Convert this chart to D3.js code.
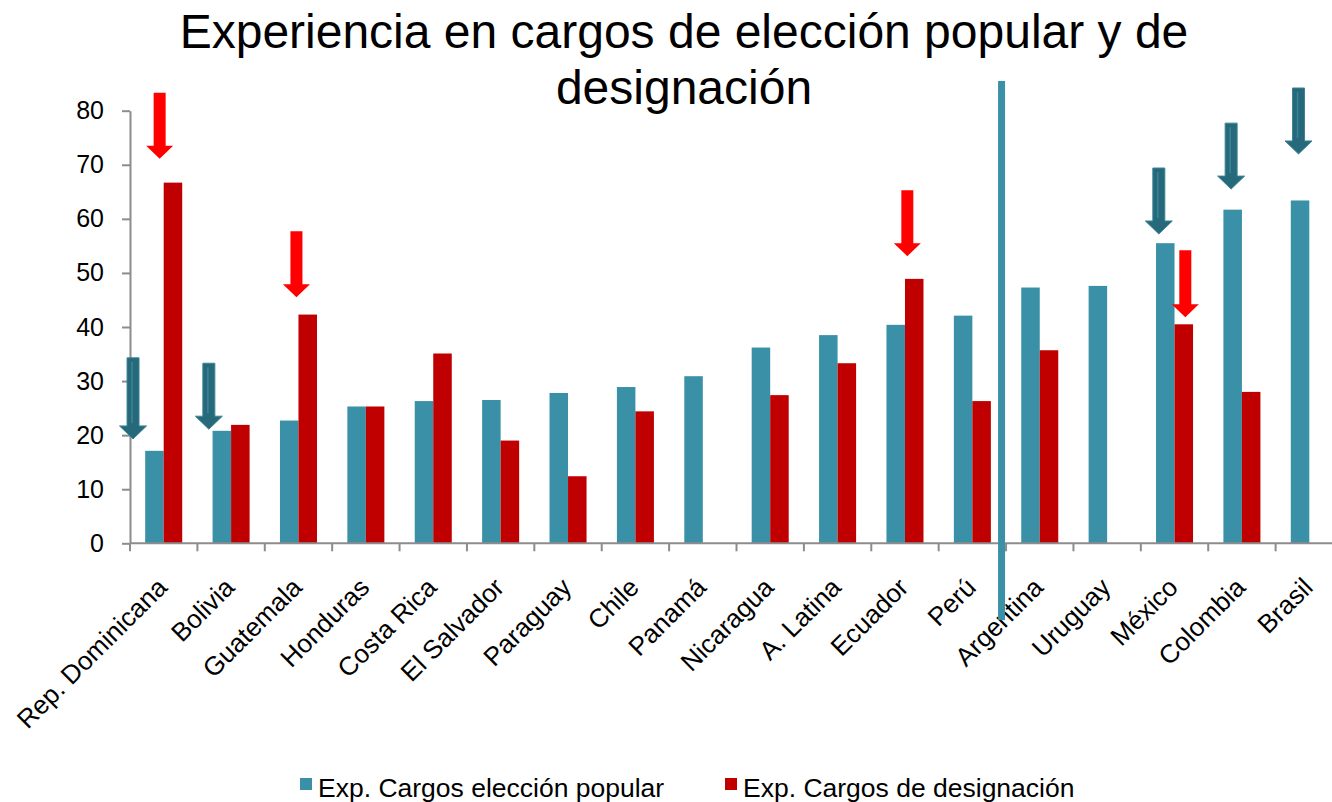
<!DOCTYPE html>
<html>
<head>
<meta charset="utf-8">
<script src="https://cdn.jsdelivr.net/npm/d3@7"></script>
<style>
  body { margin: 0; background: #fff; }
  svg text { font-family: Arial, "Liberation Sans", sans-serif; }
</style>
</head>
<body>
<div id="chart"></div>
<script>
// datos
var paises = ["Rep. Dominicana", "Bolivia", "Guatemala", "Honduras", "Costa Rica", "El Salvador",
  "Paraguay", "Chile", "Panamá", "Nicaragua", "A. Latina", "Ecuador", "Perú", "Argentina",
  "Uruguay", "México", "Colombia", "Brasil"];
var eleccionPopular = [17.1, 20.8, 22.7, 25.3, 26.3, 26.5, 27.8, 28.9, 30.9, 36.2, 38.5, 40.4, 42.1, 47.3, 47.6, 55.5, 61.7, 63.4];
var designacion = [66.7, 21.9, 42.3, 25.3, 35.1, 19.0, 12.4, 24.4, 0, 27.4, 33.3, 48.9, 26.3, 35.7, 0, 40.5, 28.0, 0];
var series = ["Exp. Cargos elección popular", "Exp. Cargos de designación"];
var yTicks = [0, 10, 20, 30, 40, 50, 60, 70, 80];

// flechas de anotacion: pais, posicion dentro de la categoria, valor arriba, valor punta
var flechasPais = ["Rep. Dominicana", "Bolivia", "Rep. Dominicana", "Guatemala", "Ecuador", "México", "México", "Colombia", "Brasil"];
var flechasPos = [0.045, 0.17, 0.44, 0.47, 0.535, 0.267, 0.66, 0.34, 0.34];
var flechasArriba = [34.3, 33.3, 83.3, 57.7, 65.3, 69.4, 54.2, 77.7, 84.2];
var flechasPunta = [19.3, 21.1, 71.1, 45.5, 53.1, 57.2, 41.8, 65.5, 72.0];
var flechasTipo = ["eleccion", "eleccion", "designacion", "designacion", "designacion", "eleccion", "designacion", "eleccion", "eleccion"];

var w = 1332, h = 802;
var colores = ["#3A91A7", "#C00000"];
var colorFlecha = { eleccion: "#26697B", designacion: "#FF0000" };

var svg = d3.select("#chart").append("svg")
  .attr("width", w)
  .attr("height", h);

var x = d3.scaleBand()
  .domain(paises)
  .range([130, 1343])
  .paddingInner(0)
  .paddingOuter(0);

var xSub = d3.scaleBand()
  .domain([0, 1])
  .range([0, x.bandwidth()])
  .paddingInner(0)
  .paddingOuter(0.82);

var y = d3.scaleLinear()
  .domain([0, 80])
  .range([543.3, 110.7]);

// barras
var datos = paises.map(function(p, i){
  return { pais: p, vals: [eleccionPopular[i], designacion[i]] };
});

var grupos = svg.selectAll(".grupo")
  .data(datos)
  .enter()
  .append("g")
  .attr("class", "grupo")
  .attr("transform", function(d){ return "translate(" + x(d.pais) + ",0)"; });

grupos.selectAll("rect")
  .data(function(d){ return d.vals.map(function(v, k){ return { k: k, v: v }; }); })
  .enter()
  .append("rect")
  .attr("x", function(d){ return xSub(d.k); })
  .attr("width", xSub.bandwidth())
  .attr("y", function(d){ return y(d.v); })
  .attr("height", function(d){ return y(0) - y(d.v); })
  .style("fill", function(d){ return colores[d.k]; });

// eje y
var yAxis = svg.append("g")
  .attr("transform", "translate(130,0)")
  .call(d3.axisLeft(y).tickValues(yTicks).tickSize(8).tickPadding(18).tickSizeOuter(0));
yAxis.select(".domain").style("stroke", "#8c8c8c").style("stroke-width", 2);
yAxis.selectAll(".tick line").style("stroke", "#8c8c8c").style("stroke-width", 2);
yAxis.selectAll("text")
  .style("font-size", "25px")
  .style("fill", "#000");

// eje x
var limites = paises.map(function(p){ return x(p); }).concat([x.range()[1]]);
svg.append("line")
  .attr("x1", 130).attr("x2", x.range()[1])
  .attr("y1", y(0)).attr("y2", y(0))
  .style("stroke", "#8c8c8c")
  .style("stroke-width", 2);
svg.selectAll(".xtick")
  .data(limites)
  .enter()
  .append("line")
  .attr("class", "xtick")
  .attr("x1", function(d){ return d; })
  .attr("x2", function(d){ return d; })
  .attr("y1", y(0))
  .attr("y2", y(0) + 8)
  .style("stroke", "#8c8c8c")
  .style("stroke-width", 2);

svg.selectAll(".xlabel")
  .data(paises)
  .enter()
  .append("text")
  .attr("class", "xlabel")
  .attr("transform", function(d){
    return "translate(" + (x(d) + x.bandwidth() / 2 + 5) + ",589) rotate(-45)";
  })
  .attr("text-anchor", "end")
  .style("font-size", "26px")
  .text(function(d){ return d; });

// linea vertical entre Peru y Argentina
svg.append("rect")
  .attr("x", x("Argentina") - 8)
  .attr("width", 7)
  .attr("y", y(85.5))
  .attr("height", y(-14.2) - y(85.5))
  .style("fill", "#3A91A7");

// flechas
var flechas = flechasPais.map(function(p, i){
  return { pais: p, pos: flechasPos[i], arriba: flechasArriba[i], punta: flechasPunta[i], tipo: flechasTipo[i] };
});

function flechaPath(d){
  var cx = x(d.pais) + d.pos * x.bandwidth();
  var y0 = y(d.arriba), y1 = y(d.punta);
  var sw = 6, hw = 13.5, hl = 13;
  return "M" + (cx - sw) + "," + y0 +
    "L" + (cx + sw) + "," + y0 +
    "L" + (cx + sw) + "," + (y1 - hl) +
    "L" + (cx + hw) + "," + (y1 - hl) +
    "L" + cx + "," + y1 +
    "L" + (cx - hw) + "," + (y1 - hl) +
    "L" + (cx - sw) + "," + (y1 - hl) + "Z";
}

svg.selectAll(".flecha")
  .data(flechas)
  .enter()
  .append("path")
  .attr("class", "flecha")
  .attr("d", flechaPath)
  .style("fill", function(d){ return colorFlecha[d.tipo]; })
  .style("stroke", function(d){ return d.tipo == "eleccion" ? "#3C8497" : "none"; })
  .style("stroke-width", 1);

// brillo interior de las flechas azules
svg.selectAll(".brillo")
  .data(flechas.filter(function(d){ return d.tipo == "eleccion"; }))
  .enter()
  .append("line")
  .attr("class", "brillo")
  .attr("x1", function(d){ return x(d.pais) + d.pos * x.bandwidth() - 1; })
  .attr("x2", function(d){ return x(d.pais) + d.pos * x.bandwidth() - 1; })
  .attr("y1", function(d){ return y(d.arriba) + 4; })
  .attr("y2", function(d){ return y(d.punta) - 16; })
  .style("stroke", "#3C8497")
  .style("stroke-width", 1.5);

// titulo
var titulo = svg.append("text")
  .attr("text-anchor", "middle")
  .style("font-size", "48px")
  .style("fill", "#000");
titulo.append("tspan").attr("x", 684).attr("y", 48).text("Experiencia en cargos de elección popular y de");
titulo.append("tspan").attr("x", 684).attr("y", 104).text("designación");

// leyenda
var leyX = [300, 725];
var ley = svg.selectAll(".ley")
  .data(series)
  .enter()
  .append("g")
  .attr("class", "ley")
  .attr("transform", function(d, i){ return "translate(" + leyX[i] + ",778)"; });
ley.append("rect")
  .attr("width", 12).attr("height", 12)
  .style("fill", function(d, i){ return colores[i]; });
ley.append("text")
  .attr("x", 18)
  .attr("y", 19)
  .style("font-size", "26.5px")
  .text(function(d){ return d; });
</script>
</body>
</html>
